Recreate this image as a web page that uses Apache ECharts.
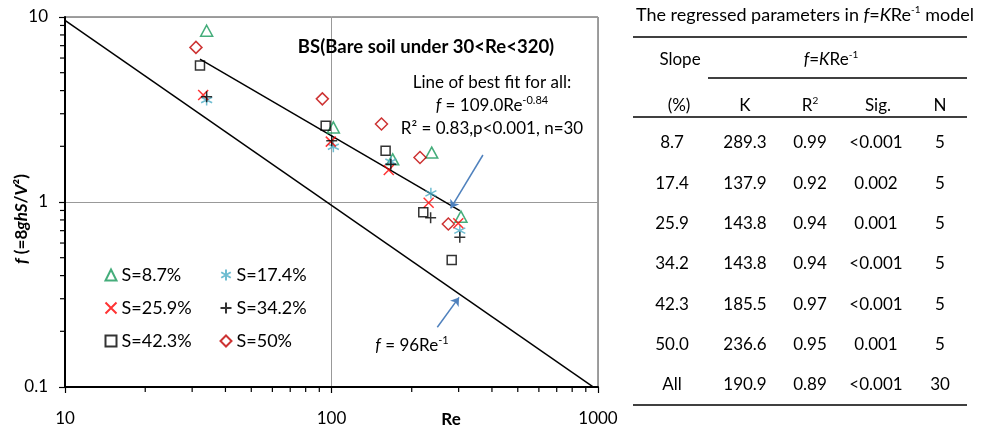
<!DOCTYPE html>
<html>
<head>
<meta charset="utf-8">
<script src="https://cdn.jsdelivr.net/npm/echarts@6/dist/echarts.min.js"></script>
<style>
  html, body { margin: 0; padding: 0; background: #fff; }
  #chart { width: 983px; height: 427px; }
</style>
</head>
<body>
<div id="chart"></div>
<script>
// Friction factor f against Reynolds number Re for each bed slope S
const re_s87  = [34.0, 101.6, 169.7, 237.7, 306];
const f_s87   = [8.43, 2.53, 1.70, 1.85, 0.833];
const re_s174 = [34.0, 101.6, 167, 236, 303];
const f_s174  = [3.56, 1.99, 1.65, 1.114, 0.70];
const re_s259 = [33.0, 99.4, 164, 231.5, 299];
const f_s259  = [3.79, 2.12, 1.49, 0.991, 0.767];
const re_s342 = [34.0, 100.2, 167, 235.5, 303];
const f_s342  = [3.71, 2.14, 1.60, 0.822, 0.644];
const re_s423 = [32.1, 95.1, 159.6, 221, 282.5];
const f_s423  = [5.46, 2.58, 1.89, 0.88, 0.486];
const re_s50  = [31.0, 92.4, 154, 214.8, 274.4];
const f_s50   = [6.85, 3.61, 2.64, 1.74, 0.76];

// Power-law curves f = K * Re^b
const fitAll   = { K: 109.0, b: -0.84, reFrom: 32.1, reTo: 303 };
const laminar  = { K: 96,    b: -1,    reFrom: 10,   reTo: 1000 };

// Axis tick values
const xMajor = [10, 100, 1000];
const yMajor = [0.1, 1, 10];
const xMinor = [20, 30, 40, 50, 60, 70, 80, 90, 200, 300, 400, 500, 600, 700, 800, 900];
const yMinor = [0.2, 0.3, 0.4, 0.5, 0.6, 0.7, 0.8, 0.9, 2, 3, 4, 5, 6, 7, 8, 9];

// Pointer arrows (tail -> head), in Re / f units
const arrowFit     = [[370, 1.795], [280, 0.925]];
const arrowLaminar = [[249.5, 0.2105], [301, 0.305]];

// Table: regressed parameters in f = K Re^-1
const tblSlope = ['8.7', '17.4', '25.9', '34.2', '42.3', '50.0', 'All'];
const tblK     = ['289.3', '137.9', '143.8', '143.8', '185.5', '236.6', '190.9'];
const tblR2    = ['0.99', '0.92', '0.94', '0.94', '0.97', '0.95', '0.89'];
const tblSig   = ['<0.001', '0.002', '0.001', '<0.001', '<0.001', '0.001', '<0.001'];
const tblN     = ['5', '5', '5', '5', '5', '5', '30'];

const FONT = 'Lato';
const FS = 17;

const SYM_X    = 'path://M0,0L10,10M10,0L0,10';
const SYM_PLUS = 'path://M5,0L5,10M0,5L10,5';
const SYM_AST  = 'path://M5,0L5,10M0.67,2.5L9.33,7.5M0.67,7.5L9.33,2.5';

const groups = [
  { name: 'S=8.7%',  re: re_s87,  f: f_s87,  symbol: 'triangle', size: [12, 11], color: '#17995a' },
  { name: 'S=17.4%', re: re_s174, f: f_s174, symbol: SYM_AST,    size: [11, 11], color: '#4bacc6' },
  { name: 'S=25.9%', re: re_s259, f: f_s259, symbol: SYM_X,      size: [10, 10], color: '#ff0000' },
  { name: 'S=34.2%', re: re_s342, f: f_s342, symbol: SYM_PLUS,   size: [11, 11], color: '#000000' },
  { name: 'S=42.3%', re: re_s423, f: f_s423, symbol: 'rect',     size: [9, 9],   color: '#000000' },
  { name: 'S=50%',   re: re_s50,  f: f_s50,  symbol: 'diamond',  size: [12, 12], color: '#c00000' }
];

function powerCurve(c) {
  return [c.reFrom, c.reTo].map(r => [r, c.K * Math.pow(r, c.b)]);
}

const scatterSeries = groups.map(g => ({
  name: g.name,
  type: 'scatter',
  data: g.re.map((r, i) => [r, g.f[i]]),
  symbol: g.symbol,
  symbolSize: g.size,
  itemStyle: { color: 'none', borderColor: g.color, borderWidth: 1.5 },
  z: 5
}));

// Minor ticks at 2..9 of every decade, placed through the axis scales
function tickSeries(values, horizontal) {
  return {
    type: 'custom',
    silent: true,
    clip: false,
    data: values.map(v => horizontal ? [v, yMajor[0]] : [xMajor[0], v]),
    renderItem: function (params, api) {
      const p = api.coord([api.value(0), api.value(1)]);
      const shape = horizontal
        ? { x1: p[0], y1: p[1], x2: p[0], y2: p[1] + 5 }
        : { x1: p[0], y1: p[1], x2: p[0] - 5, y2: p[1] };
      return { type: 'line', shape: shape, style: { stroke: '#000', lineWidth: 1.2 } };
    },
    z: 8
  };
}

// Table graphics
const colX = [672, 745, 810, 876, 940];
const rowY0 = 143, rowStep = 40.3;
const tRich = {
  t:   { fontFamily: FONT, fontSize: FS, fill: '#000' },
  ti:  { fontFamily: FONT, fontSize: FS, fontStyle: 'italic', fill: '#000' },
  tt:  { fontFamily: FONT, fontSize: 18, fill: '#000' },
  tti: { fontFamily: FONT, fontSize: 18, fontStyle: 'italic', fill: '#000' },
  sup: { fontFamily: FONT, fontSize: 10, lineHeight: 10, padding: [0, 0, 11, 0], fill: '#000' }
};
function txt(x, y, text, extra) {
  return {
    type: 'text', x: x, y: y, silent: true,
    style: Object.assign({
      text: text, fontFamily: FONT, fontSize: FS, fill: '#000',
      align: 'center', verticalAlign: 'middle',
      textAlign: 'center', textVerticalAlign: 'middle', rich: tRich
    }, extra || {})
  };
}
function hline(x1, x2, y) {
  return { type: 'line', silent: true, shape: { x1: x1, y1: y, x2: x2, y2: y },
           style: { stroke: '#000', lineWidth: 1.3 } };
}
const tableGraphics = [
  txt(805, 15, '{tt|The regressed parameters in }{tti|f}{tt|=}{tti|K}{tt|Re}{sup|-1}{tt| model}'),
  hline(633, 967, 37),
  txt(680, 60, 'Slope'),
  txt(831, 60, '{ti|f}{t|=}{ti|K}{t|Re}{sup|-1}'),
  hline(708, 967, 78),
  txt(679, 106, '(%)'),
  txt(745, 106, 'K'),
  txt(810, 106, '{t|R}{sup|2}'),
  txt(878, 106, 'Sig.'),
  txt(940, 106, 'N'),
  hline(633, 967, 117),
  hline(633, 967, 405)
];
[tblSlope, tblK, tblR2, tblSig, tblN].forEach((col, c) => {
  col.forEach((v, r) => tableGraphics.push(txt(colX[c], rowY0 + r * rowStep, v)));
});

const annRich = {
  i:   { fontFamily: FONT, fontSize: FS, fontStyle: 'italic', fill: '#000' },
  n:   { fontFamily: FONT, fontSize: FS, fill: '#000' },
  sup: { fontFamily: FONT, fontSize: 11, lineHeight: 11, padding: [0, 0, 12, 0], fill: '#000' },
  b:   { fontFamily: FONT, fontSize: FS, fontWeight: 'bold', fill: '#000' },
  bi:  { fontFamily: FONT, fontSize: FS, fontWeight: 'bold', fontStyle: 'italic', fill: '#000' }
};
function ann(x, y, text, extra) {
  return {
    type: 'text', x: x, y: y, silent: true, z: 10,
    style: Object.assign({
      text: text, fontFamily: FONT, fontSize: FS, fill: '#000',
      align: 'center', verticalAlign: 'middle',
      textAlign: 'center', textVerticalAlign: 'middle', rich: annRich
    }, extra || {})
  };
}

const chartGraphics = [
  ann(426, 47, 'BS(Bare soil under 30<Re<320)', { fontWeight: 'bold', fontSize: 18.5 }),
  ann(492, 83, 'Line of best fit for all:'),
  ann(492, 106, '{i|f}{n| = 109.0Re}{sup|-0.84}'),
  ann(492, 129, 'R² = 0.83,p<0.001, n=30'),
  ann(412, 346, '{i|f}{n| = 96Re}{sup|-1}'),
  ann(451, 420, 'Re', { fontWeight: 'bold' }),
  Object.assign(ann(22, 219, '{bi|f}{b| (=8}{bi|ghS}{b|/}{bi|V}{b|²)}'), { rotation: Math.PI / 2 })
];

const legendCommon = {
  orient: 'vertical',
  top: 261,
  itemGap: 15,
  itemWidth: 11,
  itemHeight: 11,
  textStyle: { fontFamily: FONT, fontSize: 18, color: '#000', lineHeight: 18 }
};

const axisCommon = {
  type: 'log', logBase: 10,
  axisLine: { show: true, lineStyle: { color: '#000', width: 2 } },
  axisTick: { show: true, inside: false, length: 6, lineStyle: { color: '#000', width: 1.2 } },
  splitLine: { show: true, lineStyle: { color: '#999', width: 1 } }
};

const option = {
  animation: false,
  backgroundColor: '#fff',
  grid: { left: 65, top: 17, width: 533, height: 370, show: true, borderColor: '#404040', borderWidth: 1 },
  xAxis: Object.assign({}, axisCommon, {
    min: xMajor[0], max: xMajor[xMajor.length - 1],
    axisLabel: { fontFamily: FONT, fontSize: FS, color: '#000', margin: 23, formatter: v => String(v) }
  }),
  yAxis: Object.assign({}, axisCommon, {
    min: yMajor[0], max: yMajor[yMajor.length - 1],
    axisLabel: { fontFamily: FONT, fontSize: FS, color: '#000', margin: 17, formatter: v => String(v) }
  }),
  legend: [
    Object.assign({ left: 98, data: ['S=8.7%', 'S=25.9%', 'S=42.3%'] }, legendCommon),
    Object.assign({ left: 213, data: ['S=17.4%', 'S=34.2%', 'S=50%'] }, legendCommon)
  ],
  graphic: chartGraphics.concat(tableGraphics),
  series: [
    {
      type: 'line', data: powerCurve(laminar), showSymbol: false, silent: true,
      lineStyle: { color: '#000', width: 1.5 }, z: 3
    },
    {
      type: 'line', data: powerCurve(fitAll), showSymbol: false, silent: true,
      lineStyle: { color: '#000', width: 1.5 }, z: 3
    },
    {
      type: 'lines', coordinateSystem: 'cartesian2d', silent: true,
      data: [{ coords: arrowFit }, { coords: arrowLaminar }],
      symbol: ['none', 'arrow'], symbolSize: 8,
      lineStyle: { color: '#4f81bd', width: 1.5, opacity: 1 }, z: 6
    },
    tickSeries(xMinor, true),
    tickSeries(yMinor, false)
  ].concat(scatterSeries)
};

const chart = echarts.init(document.getElementById('chart'), null, { renderer: 'canvas' });
chart.setOption(option);
</script>
</body>
</html>
